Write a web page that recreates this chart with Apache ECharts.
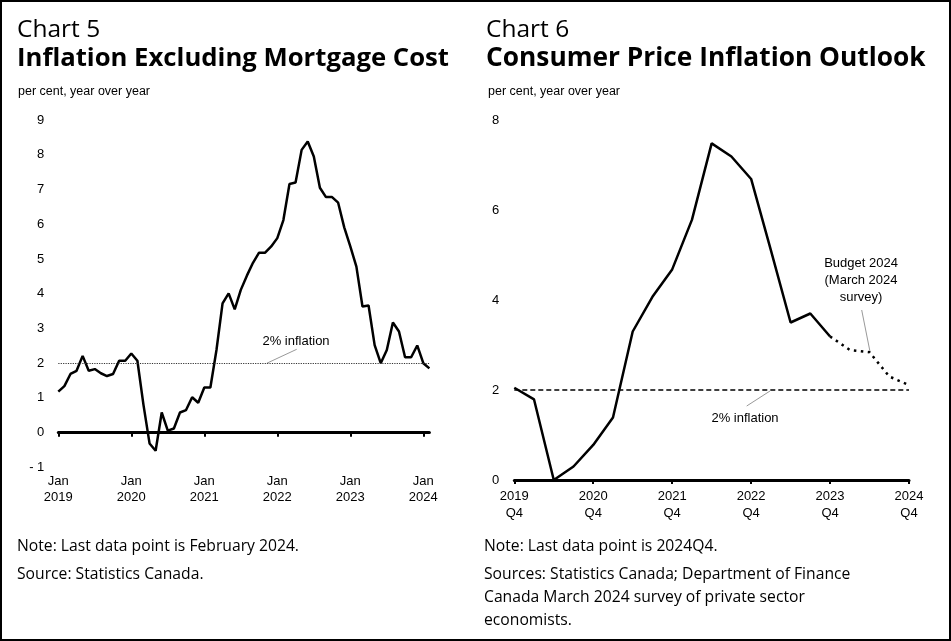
<!DOCTYPE html>
<html>
<head>
<meta charset="utf-8">
<script src="https://cdn.jsdelivr.net/npm/echarts@6/dist/echarts.min.js"></script>
<style>
  html, body { margin: 0; padding: 0; background: #fff; }
  #chart { width: 951px; height: 641px; }
</style>
</head>
<body>
<div id="chart"></div>
<script>
// Chart 5: monthly, Jan 2019 - Feb 2024
const months = [];
for (let y = 2019; y <= 2024; y++) {
  for (let m = 1; m <= 12; m++) {
    if (y === 2024 && m > 2) break;
    months.push(y + '-' + (m < 10 ? '0' + m : m));
  }
}
const exMortgage = [
  1.18, 1.34, 1.69, 1.78, 2.21, 1.78, 1.83, 1.71, 1.63, 1.69, 2.07, 2.07,
  2.28, 2.07, 0.80, -0.31, -0.52, 0.58, 0.06, 0.12, 0.58, 0.65, 1.02, 0.86,
  1.30, 1.30, 2.38, 3.72, 4.01, 3.55, 4.11, 4.52, 4.89, 5.18, 5.18, 5.36,
  5.60, 6.12, 7.16, 7.20, 8.14, 8.38, 7.95, 7.05, 6.78, 6.78, 6.62, 5.91,
  5.36, 4.78, 3.63, 3.66, 2.52, 2.00, 2.38, 3.17, 2.91, 2.17, 2.17, 2.51,
  2.00, 1.85
];

// Chart 6: quarterly, 2019Q4 - 2024Q4
const quarters = [];
for (let y = 2019; y <= 2024; y++) {
  for (let q = 1; q <= 4; q++) {
    if (y === 2019 && q < 4) continue;
    quarters.push(y + 'Q' + q);
  }
}
const cpiActual = [2.05, 1.79, 0.0, 0.30, 0.78, 1.39, 3.30, 4.07, 4.68, 5.78, 7.48, 7.19, 6.69, 5.11, 3.50, 3.70, 3.19];
const cpiBudget = [3.19, 2.89, 2.84, 2.30, 2.11]; // 2023Q4 .. 2024Q4
const target = 2;

const leftTicks = [-1, 0, 1, 2, 3, 4, 5, 6, 7, 8, 9];
const rightTicks = [0, 2, 4, 6, 8];

const actualSeries = quarters.map((q, i) => i < cpiActual.length ? cpiActual[i] : null);
const budgetSeries = quarters.map((q, i) => {
  const k = i - (cpiActual.length - 1);
  return k >= 0 ? cpiBudget[k] : null;
});

const myChart = echarts.init(document.getElementById('chart'));

const axisFont = { fontFamily: 'Liberation Sans, Arial', fontSize: 13, color: '#000' };
const headFont = 'Open Sans';
const smallFont = '12.5px "Liberation Sans", Arial';

const option = {
  animation: false,
  backgroundColor: '#fff',
  grid: [
    { left: 58.3, top: 120, width: 371.1, height: 347.4 },
    { left: 514.3, top: 120, width: 394.7, height: 360 }
  ],
  xAxis: [
    // axis line through zero with yearly ticks
    {
      type: 'category', gridIndex: 0, data: months, boundaryGap: false,
      axisLine: { onZero: true, lineStyle: { color: '#000', width: 3 } },
      axisTick: { interval: 11, length: 4, lineStyle: { color: '#000', width: 2 } },
      axisLabel: { show: false },
      splitLine: { show: false }
    },
    // labels at the bottom
    {
      type: 'category', gridIndex: 0, data: months, boundaryGap: false,
      position: 'bottom',
      axisLine: { show: false, onZero: false },
      axisTick: { show: false },
      axisLabel: Object.assign({
        interval: 11, margin: 6, lineHeight: 16,
        formatter: v => 'Jan\n' + v.slice(0, 4)
      }, axisFont),
      splitLine: { show: false }
    },
    {
      type: 'category', gridIndex: 1, data: quarters, boundaryGap: false,
      axisLine: { lineStyle: { color: '#000', width: 3 } },
      axisTick: { interval: 3, length: 4, lineStyle: { color: '#000', width: 2 } },
      axisLabel: Object.assign({
        interval: 3, margin: 8, lineHeight: 17,
        formatter: v => v.slice(0, 4) + '\n' + v.slice(4)
      }, axisFont),
      splitLine: { show: false }
    }
  ],
  yAxis: [
    {
      type: 'value', gridIndex: 0, min: leftTicks[0], max: leftTicks[leftTicks.length - 1], interval: 1,
      axisLine: { show: false }, axisTick: { show: false }, splitLine: { show: false },
      axisLabel: Object.assign({ margin: 14, formatter: v => v < 0 ? '- ' + Math.abs(v) : v }, axisFont)
    },
    {
      type: 'value', gridIndex: 1, min: rightTicks[0], max: rightTicks[rightTicks.length - 1], interval: 2,
      axisLine: { show: false }, axisTick: { show: false }, splitLine: { show: false },
      axisLabel: Object.assign({ margin: 15 }, axisFont)
    }
  ],
  series: [
    {
      type: 'line', xAxisIndex: 0, yAxisIndex: 0, data: exMortgage,
      symbol: 'none', lineStyle: { color: '#000', width: 2.5 },
      markLine: {
        silent: true, symbol: 'none', label: { show: false },
        lineStyle: { color: '#333', width: 1, type: [1.2, 1.2] },
        data: [{ yAxis: target }]
      },
      z: 3
    },
    {
      type: 'line', xAxisIndex: 2, yAxisIndex: 1, data: actualSeries,
      symbol: 'none', lineStyle: { color: '#000', width: 2.5 },
      markLine: {
        silent: true, symbol: 'none', label: { show: false },
        lineStyle: { color: '#000', width: 1.5, type: [5, 3] },
        data: [{ yAxis: target }]
      },
      z: 3
    },
    {
      type: 'line', xAxisIndex: 2, yAxisIndex: 1, data: budgetSeries,
      symbol: 'none', lineStyle: { color: '#000', width: 2.5, type: [2.5, 4.5] },
      z: 3
    }
  ],
  graphic: [
    // outer frame
    { type: 'rect', shape: { x: 1, y: 1, width: 949, height: 639 }, style: { fill: 'none', stroke: '#000', lineWidth: 2 }, silent: true },
    // headings left
    { type: 'text', x: 17, y: 30, style: { text: 'Chart 5', font: '24.5px "' + headFont + '"', fill: '#000', verticalAlign: 'middle' } },
    { type: 'text', x: 17, y: 59, style: { text: 'Inflation Excluding Mortgage Cost', font: 'bold 25.7px "' + headFont + '"', fill: '#000', verticalAlign: 'middle' } },
    { type: 'text', x: 18, y: 92, style: { text: 'per cent, year over year', font: smallFont, fill: '#000', verticalAlign: 'middle' } },
    // headings right
    { type: 'text', x: 486, y: 30, style: { text: 'Chart 6', font: '24.5px "' + headFont + '"', fill: '#000', verticalAlign: 'middle' } },
    { type: 'text', x: 486, y: 59, style: { text: 'Consumer Price Inflation Outlook', font: 'bold 26.3px "' + headFont + '"', fill: '#000', verticalAlign: 'middle' } },
    { type: 'text', x: 488, y: 92, style: { text: 'per cent, year over year', font: smallFont, fill: '#000', verticalAlign: 'middle' } },
    // annotations left
    { type: 'line', shape: { x1: 266.7, y1: 363.3, x2: 296.7, y2: 349.3 }, style: { stroke: '#999', lineWidth: 1 } },
    { type: 'text', x: 296, y: 341, style: { text: '2% inflation', font: '13px "Liberation Sans", Arial', fill: '#000', align: 'center', verticalAlign: 'middle' } },
    // annotations right
    { type: 'line', shape: { x1: 770, y1: 391, x2: 746.7, y2: 406 }, style: { stroke: '#999', lineWidth: 1 } },
    { type: 'text', x: 745, y: 418, style: { text: '2% inflation', font: '13px "Liberation Sans", Arial', fill: '#000', align: 'center', verticalAlign: 'middle' } },
    { type: 'line', shape: { x1: 861.7, y1: 310, x2: 870, y2: 351.7 }, style: { stroke: '#999', lineWidth: 1 } },
    { type: 'text', x: 861, y: 280, style: { text: 'Budget 2024\n(March 2024\nsurvey)', font: '13px "Liberation Sans", Arial', lineHeight: 17, fill: '#000', align: 'center', verticalAlign: 'middle' } },
    // footers
    { type: 'text', x: 17, y: 547, style: { text: 'Note: Last data point is February 2024.', font: '15.7px "' + headFont + '"', fill: '#000', verticalAlign: 'middle' } },
    { type: 'text', x: 17, y: 575, style: { text: 'Source: Statistics Canada.', font: '15.7px "' + headFont + '"', fill: '#000', verticalAlign: 'middle' } },
    { type: 'text', x: 484, y: 547, style: { text: 'Note: Last data point is 2024Q4.', font: '15.7px "' + headFont + '"', fill: '#000', verticalAlign: 'middle' } },
    { type: 'text', x: 484, y: 598, style: { text: 'Sources: Statistics Canada; Department of Finance\nCanada March 2024 survey of private sector\neconomists.', font: '15.7px "' + headFont + '"', lineHeight: 23, fill: '#000', verticalAlign: 'middle' } }
  ]
};

myChart.setOption(option);
</script>
</body>
</html>
